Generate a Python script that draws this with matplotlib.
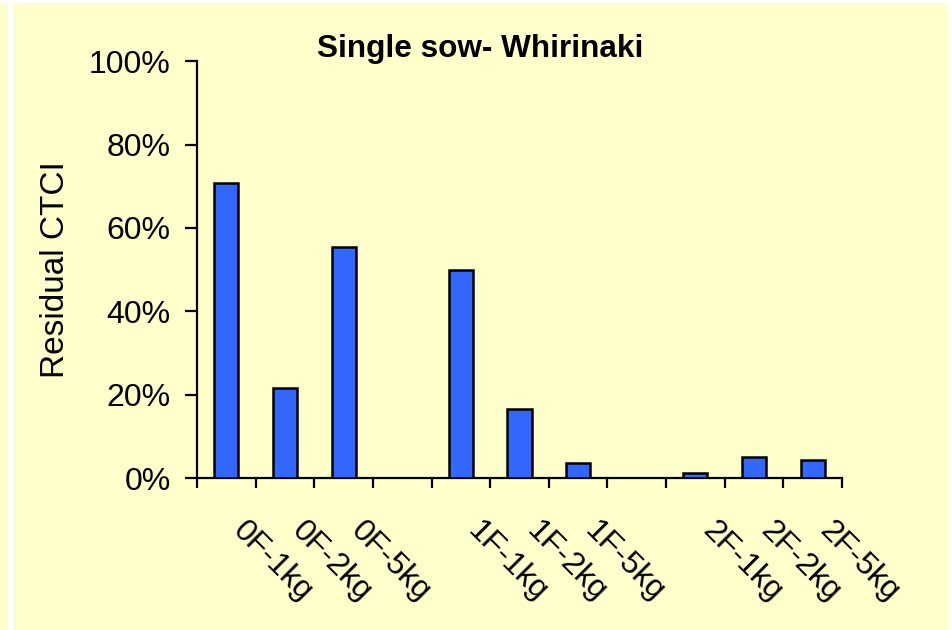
import numpy as np
import matplotlib
matplotlib.use("Agg")
import matplotlib.pyplot as plt
import matplotlib.transforms as mtransforms
from matplotlib.patches import Rectangle

# chart data (blank strings are the empty gap categories)
categories = ["0F-1kg", "0F-2kg", "0F-5kg", "",
              "1F-1kg", "1F-2kg", "1F-5kg", "",
              "2F-1kg", "2F-2kg", "2F-5kg"]
residual_ctci = [70.8, 21.5, 55.4, None,
                 49.8, 16.6, 3.7, None,
                 1.2, 5.1, 4.3]
y_ticks = [0, 20, 40, 60, 80, 100]
y_tick_labels = ["0%", "20%", "40%", "60%", "80%", "100%"]

BG = "#FFFFCC"
BAR = "#3366FF"

plt.rcParams["font.family"] = ["Liberation Sans", "DejaVu Sans"]

W, H = 952, 630
fig = plt.figure(figsize=(W / 100, H / 100), dpi=100, facecolor=BG)

# white strips along the edges of the original picture
for x0, y0, w, h in [(8, 0, 5, H), (0, 0, W, 3), (947, 0, 5, H)]:
    fig.patches.append(Rectangle((x0 / W, 1 - (y0 + h) / H), w / W, h / H,
                                 transform=fig.transFigure, facecolor="white",
                                 edgecolor="none", zorder=0))

left, right, bottom, top = 197, 842, 478, 61.2
ax = fig.add_axes([left / W, 1 - bottom / H, (right - left) / W, (bottom - top) / H])
ax.set_facecolor(BG)

xs = [i for i, v in enumerate(residual_ctci) if v is not None]
hs = [v for v in residual_ctci if v is not None]
ax.bar(xs, hs, width=0.41, color=BAR, edgecolor="black", linewidth=1.8, zorder=3)

ax.set_xlim(-0.5, len(categories) - 0.5)
ax.set_ylim(0, 100)

for s in ["top", "right"]:
    ax.spines[s].set_visible(False)
for s in ["left", "bottom"]:
    ax.spines[s].set_linewidth(1.6)

ax.set_yticks(y_ticks)
ax.set_yticklabels(y_tick_labels, fontsize=23)
ax.tick_params(axis="y", direction="out", length=9, width=1.6, pad=10)

# x ticks at the category boundaries, labels drawn separately
ax.set_xticks(np.arange(-0.5, len(categories), 1.0))
ax.set_xticklabels([])
ax.tick_params(axis="x", direction="out", length=7, width=1.6)

trans = mtransforms.blended_transform_factory(ax.transData, ax.transAxes)
off = mtransforms.ScaledTranslation(22 / 100, -38 / 100, fig.dpi_scale_trans)
for i, lab in enumerate(categories):
    if not lab:
        continue
    ax.text(i, 0, lab, transform=trans + off, rotation=-45, rotation_mode="anchor",
            ha="left", va="top", fontsize=23)

fig.text(56 / W, 1 - 270 / H, "Residual CTCI", rotation=90, ha="center", va="center",
         fontsize=24)
fig.text(480 / W, 1 - 56.7 / H, "Single sow- Whirinaki", ha="center", va="baseline",
         fontsize=22.7, fontweight="bold")

fig.savefig("out.png", dpi=100, facecolor=BG)
